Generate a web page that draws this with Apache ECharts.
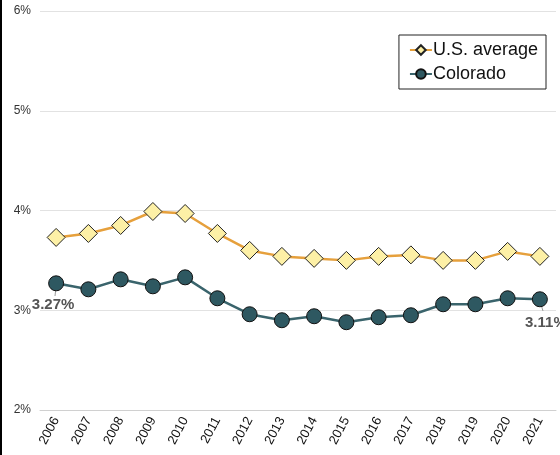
<!DOCTYPE html>
<html><head><meta charset="utf-8">
<script src="https://cdn.jsdelivr.net/npm/echarts@6/dist/echarts.min.js"></script>
<style>html,body{margin:0;padding:0;background:#fff}#c{width:560px;height:455px}</style>
</head><body><div id="c"></div>
<script>
const years = ['2006','2007','2008','2009','2010','2011','2012','2013','2014','2015','2016','2017','2018','2019','2020','2021'];
const usAverage = [3.73,3.77,3.85,3.99,3.97,3.77,3.60,3.54,3.52,3.50,3.54,3.555,3.50,3.50,3.59,3.54];
const colorado = [3.27,3.21,3.31,3.24,3.33,3.12,2.96,2.90,2.94,2.88,2.93,2.95,3.06,3.06,3.12,3.11];
const yTicks = [2,3,4,5,6];

const FONT = 'Liberation Sans, Arial, Helvetica, sans-serif';
const chart = echarts.init(document.getElementById('c'), null, {renderer:'canvas'});
const coData = colorado.map((v,i)=>{
  if(i===0) return {value:v, label:{show:true, position:'inside', offset:[-3,22]}};
  if(i===colorado.length-1) return {value:v, label:{show:true, position:'inside', offset:[6,24]}};
  return v;
});
chart.setOption({
  animation:false,
  backgroundColor:'#fff',
  grid:{left:40,right:4,top:11,bottom:45},
  legend:{
    right:14, top:35, orient:'vertical',
    backgroundColor:'#fff', borderColor:'#222', borderWidth:1, borderRadius:0,
    padding:[6,8,6,10], itemGap:6, itemWidth:22, itemHeight:12,
    textStyle:{fontSize:18, color:'#111', fontFamily:FONT, padding:[0,0,0,-4]},
    data:['U.S. average','Colorado']
  },
  xAxis:{
    type:'category', data:years, boundaryGap:true,
    axisLine:{lineStyle:{color:'#d0d0d0'}},
    axisTick:{lineStyle:{color:'#d0d0d0'}, length:5},
    axisLabel:{rotate:62, color:'#111', fontSize:13, margin:8, fontFamily:FONT}
  },
  yAxis:{
    type:'value', min:yTicks[0], max:yTicks[yTicks.length-1], interval:1,
    axisLine:{show:false}, axisTick:{show:false},
    splitLine:{lineStyle:{color:'#e2e2e2', width:1}},
    axisLabel:{formatter:v=>v+'%', color:'#333', fontSize:12, margin:9, fontFamily:FONT}
  },
  series:[
    {name:'U.S. average', type:'line', data:usAverage, symbol:'diamond', symbolSize:18,
     lineStyle:{color:'#e6a03c', width:2.5},
     itemStyle:{color:'#fdf0a6', borderColor:'#222', borderWidth:1},
     z:3},
    {name:'Colorado', type:'line', data:coData, symbol:'circle', symbolSize:15,
     lineStyle:{color:'#3a646c', width:2.5},
     itemStyle:{color:'#2e5861', borderColor:'#111', borderWidth:1},
     label:{show:false, formatter:p=>p.value.toFixed(2)+'%', fontWeight:'bold', fontSize:15, color:'#555', fontFamily:FONT},
     z:2}
  ],
  graphic:[
    {type:'rect', left:0, top:0, shape:{width:2, height:455}, style:{fill:'#000'}, z:100},
    {type:'line', shape:{x1:56.5, y1:283, x2:55, y2:296}, style:{stroke:'#999', lineWidth:1}, z:1},
    {type:'line', shape:{x1:539, y1:298, x2:543, y2:311}, style:{stroke:'#999', lineWidth:1}, z:1}
  ]
});
</script></body></html>
